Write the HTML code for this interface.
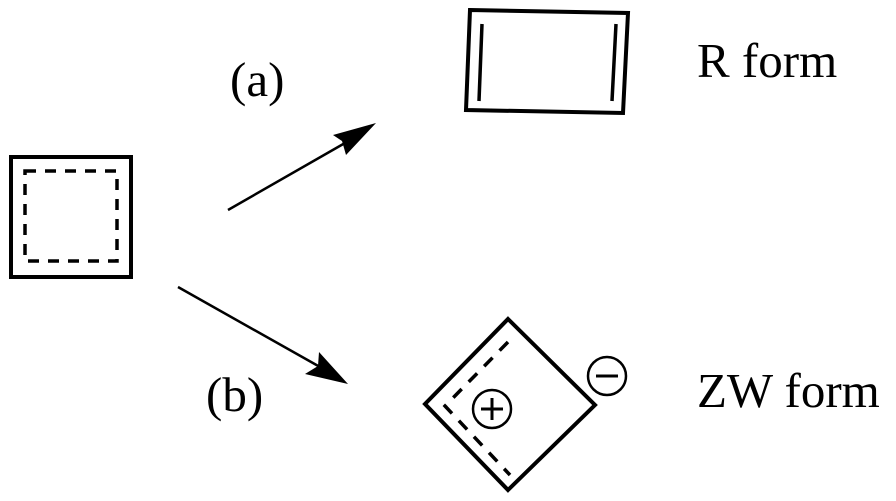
<!DOCTYPE html>
<html><head><style>body{margin:0;background:#fff}svg{display:block}</style></head><body>
<svg width="896" height="501" viewBox="0 0 896 501" xmlns="http://www.w3.org/2000/svg">
<g fill="none" stroke="#000" stroke-width="4">
<rect x="11" y="157" width="120" height="120"/>
<path d="M25 171H117V261H25Z" stroke-dasharray="11,9" stroke-width="3.5"/>
<path d="M470 10L628 13L623 113L466 110Z"/>
<path d="M482 24L479 101M616 24L612 101" stroke-width="3.5"/>
<path d="M508 319L595 405L508 490L425 404Z"/>
<path d="M508 342L445 406L510 475" stroke-dasharray="12,10" stroke-width="3.5"/>
<circle cx="492" cy="409" r="19" stroke-width="2.5"/>
<circle cx="607" cy="376" r="19" stroke-width="2.5"/>
<path d="M481 409H503M492 398V420M596 376H618" stroke-width="3"/>
<path d="M228 210L345 143M178 287L320 367" stroke-width="2.5"/>
</g>
<path d="M376 123L346 155L342 141L333 135Z" fill="#000"/>
<path d="M348 384L305 374L318 366L319 352Z" fill="#000"/>
<g font-family="Liberation Serif, serif" font-size="49" fill="#000">
<text x="230" y="96">(a)</text>
<text x="206" y="411">(b)</text>
<text x="697" y="77">R form</text>
<text x="697" y="407">ZW form</text>
</g>
</svg>
</body></html>
